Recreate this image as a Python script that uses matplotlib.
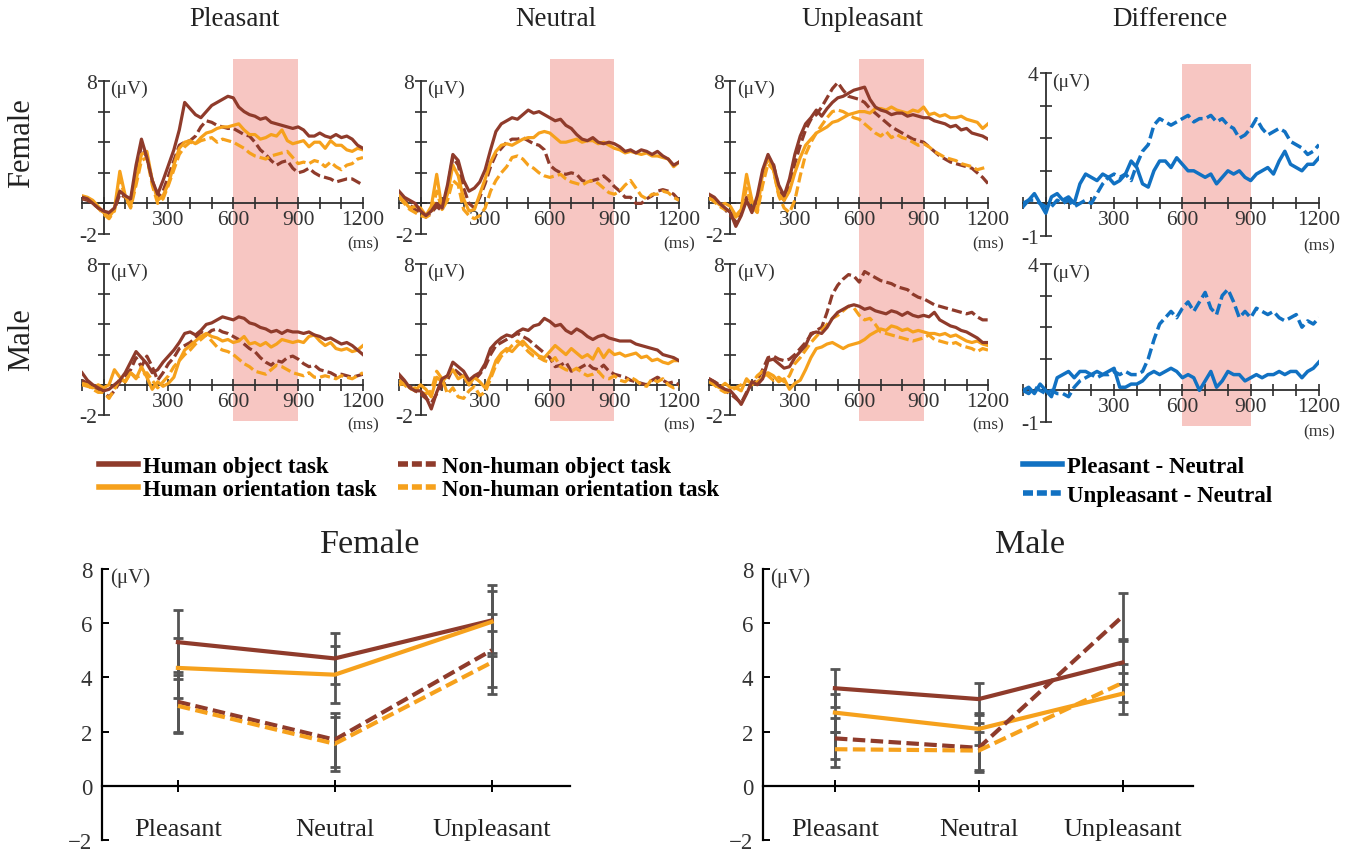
import matplotlib
matplotlib.use('Agg')
import matplotlib.pyplot as plt
import matplotlib.transforms as mtrans
from matplotlib.lines import Line2D
from matplotlib.patches import Rectangle

# ---- data ----
t_ms = list(range(-100, 1201, 25))

# Pleasant
fem_pl_ho = [0.4, 0.3, 0.0, -0.3,
             -0.5, -0.6, -0.3, 0.8, 0.5, 0.3, 2.5, 4.2,
             3.0, 1.5, 0.6, 1.5, 2.5, 3.5, 4.8, 6.6,
             6.2, 5.8, 5.6, 6.0, 6.4, 6.6, 6.8, 7.0,
             6.9, 6.3, 6.0, 5.8, 5.7, 5.5, 5.6, 5.3,
             5.2, 5.1, 5.0, 4.9, 5.0, 4.8, 4.4, 4.4,
             4.6, 4.4, 4.3, 4.5, 4.3, 4.4, 4.2, 3.8,
             3.6]
fem_pl_hr = [0.5, 0.4, 0.2, -0.2,
             -0.6, -0.9, -0.4, 2.1, 0.5, -0.2, 1.5, 3.2,
             3.4, 1.5, 0.2, 0.5, 1.3, 2.5, 3.6, 4.0,
             4.1, 3.9, 4.3, 4.6, 4.7, 4.9, 5.0, 5.0,
             5.1, 5.2, 4.8, 4.5, 4.5, 4.2, 4.3, 4.5,
             4.4, 4.8, 4.1, 3.9, 4.0, 4.1, 3.7, 4.0,
             4.0, 3.6, 4.1, 3.8, 3.8, 3.5, 3.4, 3.6,
             3.5]
fem_pl_no = [0.3, 0.2, 0.0, -0.3,
             -0.6, -0.7, -0.4, 0.6, 0.4, 0.2, 2.0, 3.8,
             3.0, 1.5, 0.4, 0.8, 1.8, 2.8, 3.8, 4.0,
             4.1, 4.4, 5.0, 5.4, 5.3, 5.1, 5.0, 4.9,
             4.9, 4.7, 4.5, 4.4, 4.0, 3.5, 3.2, 2.8,
             2.5, 2.7, 2.8, 2.3, 2.0, 2.1, 2.3, 2.0,
             1.8, 1.7, 1.6, 1.4, 1.5, 1.6, 1.6, 1.4,
             1.2]
fem_pl_nr = [0.4, 0.3, 0.1, -0.3,
             -0.7, -1.0, -0.5, 1.6, 0.4, -0.3, 1.2, 2.8,
             3.0, 1.2, 0.0, 0.3, 1.2, 2.2, 3.2, 3.7,
             4.0, 3.9, 4.1, 4.2, 4.3, 4.0, 4.2, 4.1,
             4.0, 3.8, 3.6, 3.3, 3.1, 3.0, 2.9, 3.1,
             3.2, 3.3, 3.4, 3.0, 2.6, 2.7, 2.6, 2.8,
             2.7, 2.4, 2.7, 2.4, 2.2, 2.5, 2.6, 2.9,
             3.0]
mal_pl_ho = [0.8, 0.3, 0.0, -0.2,
             -0.4, -0.3, 0.0, 0.3, 0.8, 1.5, 2.2, 1.8,
             1.4, 0.8, 1.0, 1.5, 1.9, 2.3, 2.8, 3.4,
             3.5, 3.3, 3.6, 4.0, 4.1, 4.3, 4.5, 4.4,
             4.3, 4.5, 4.4, 4.1, 4.0, 3.8, 3.7, 3.5,
             3.6, 3.4, 3.6, 3.5, 3.5, 3.4, 3.5, 3.3,
             3.2, 3.0, 3.1, 2.9, 2.7, 2.8, 2.6, 2.3,
             2.0]
mal_pl_hr = [0.0, -0.1, -0.2, 0.0,
             -0.2, 0.0, 1.0, 0.5, 0.2, 0.8, 0.4, 1.2,
             0.5, -0.3, 0.2, -0.1, 0.1, 0.5, 1.6, 2.3,
             2.6, 2.9, 3.2, 3.4, 3.2, 3.1, 2.9, 3.0,
             2.8, 2.9, 3.2, 2.7, 2.8, 2.6, 2.8, 2.5,
             2.7, 3.0, 2.9, 2.8, 2.9, 2.8, 3.2, 3.3,
             2.9, 2.6, 2.8, 2.4, 2.3, 2.4, 2.2, 2.3,
             2.6]
mal_pl_no = [0.3, 0.1, -0.1, -0.3,
             -0.5, -0.8, -0.4, 0.2, 0.6, 1.0, 1.8, 1.2,
             1.9, 1.2, 0.3, 0.8, 1.4, 1.8, 2.4, 2.6,
             2.8, 3.1, 3.5, 3.3, 3.6, 3.7, 3.5, 3.4,
             3.2, 3.0, 2.7, 2.4, 2.2, 1.8, 1.5, 1.3,
             1.6, 1.5, 1.8, 1.9, 1.7, 1.4, 1.2, 1.3,
             1.0, 0.9, 0.8, 0.6, 0.7, 0.6, 0.5, 0.6,
             0.7]
mal_pl_nr = [0.1, 0.0, -0.3, -0.5,
             -0.5, -0.9, -0.3, 0.4, 0.2, 0.8, 0.5, 0.6,
             0.8, 0.3, -0.2, 0.2, 0.6, 1.2, 1.6, 2.0,
             2.3, 2.7, 3.0, 3.3, 2.9, 2.5, 2.3, 2.2,
             2.0, 1.7, 1.4, 1.2, 0.9, 0.8, 0.7, 1.0,
             1.3, 1.2, 1.0, 0.8, 0.7, 0.6, 0.8, 0.5,
             0.5, 0.6, 0.5, 0.4, 0.6, 0.5, 0.4, 0.6,
             0.8]

# Neutral
fem_ne_ho = [0.8, 0.4, 0.2, 0.0,
             -0.5, -0.8, -0.5, 0.0, -0.3, 1.2, 3.2, 2.8,
             1.5, 0.8, 1.0, 1.4, 2.2, 3.5, 4.7, 5.2,
             5.4, 5.6, 5.5, 5.8, 6.1, 5.9, 6.0, 5.8,
             5.6, 5.4, 5.5, 5.1, 4.9, 4.5, 4.2, 4.1,
             4.3, 4.0, 3.9, 4.0, 3.9, 3.7, 3.4, 3.5,
             3.3, 3.5, 3.4, 3.2, 3.4, 3.1, 2.9, 2.5,
             2.7]
fem_ne_hr = [0.5, 0.1, -0.3, -0.2,
             -0.3, -0.8, -0.2, 1.9, -0.4, 0.6, 2.5, 1.8,
             0.3, -0.5, -0.4, 0.6, 1.6, 2.7, 3.4, 3.8,
             3.9, 3.8, 4.0, 4.2, 4.3, 4.3, 4.6, 4.7,
             4.6, 4.3, 4.0, 4.0, 4.1, 4.2, 4.0, 4.1,
             4.1, 3.9, 4.0, 3.8, 3.6, 3.5, 3.3, 3.4,
             3.3, 3.2, 3.3, 3.1, 3.1, 3.0, 2.9, 2.4,
             2.7]
fem_ne_no = [0.4, 0.2, -0.1, -0.4,
             -0.6, -0.9, -0.6, -0.2, -0.5, 1.0, 3.0, 2.5,
             1.0, 0.0, -0.3, 0.4, 1.3, 2.4, 3.2, 3.6,
             4.0, 4.2, 4.2, 4.3, 4.1, 3.9, 3.8, 3.5,
             2.5, 2.2, 2.0, 1.9, 2.0, 1.9, 1.5, 1.4,
             1.5, 1.6, 1.8, 1.5, 1.1, 0.8, 0.4, 0.4,
             0.0, 0.0, 0.3, 0.5, 0.8, 0.9, 0.8, 0.6,
             0.2]
fem_ne_nr = [0.4, 0.0, -0.4, -0.6,
             -0.8, -0.9, -0.7, 0.8, -0.4, 0.2, 1.5, 1.2,
             -0.4, -0.8, -1.0, -0.8, -0.3, 0.8, 1.5, 2.0,
             2.4, 3.0, 3.1, 2.9, 2.5, 2.3, 2.0, 1.8,
             1.7, 1.8, 1.9, 1.6, 1.4, 1.3, 1.2, 1.4,
             1.5, 1.3, 1.0, 0.7, 0.6, 0.8, 1.2, 1.5,
             1.0, 0.5, 0.3, 0.6, 0.6, 0.8, 0.7, 0.4,
             0.2]
mal_ne_ho = [0.7, 0.3, -0.2, -0.4,
             -0.4, -0.8, -1.6, -0.5, 0.4, 0.6, 1.5, 1.2,
             0.9, 0.3, 0.6, 0.8, 1.4, 2.4, 2.8, 3.1,
             3.3, 3.2, 3.5, 3.7, 3.6, 3.9, 4.0, 4.4,
             4.2, 3.9, 4.0, 3.6, 3.4, 3.7, 3.5, 3.2,
             3.0, 3.2, 3.3, 3.1, 3.0, 2.9, 2.9, 2.9,
             2.7, 2.6, 2.5, 2.4, 2.3, 2.0, 1.9, 1.8,
             1.6]
mal_ne_hr = [0.0, 0.1, -0.2, -0.4,
             0.0, -0.3, -0.8, 0.5, 0.2, 0.6, 1.0, 0.4,
             0.6, 0.0, 0.5, 0.2, -0.2, 0.6, 1.6, 2.1,
             2.4, 2.2, 2.6, 2.9, 2.5, 2.2, 1.9, 1.8,
             2.2, 2.6, 2.3, 2.0, 2.4, 2.1, 1.8, 2.0,
             1.7, 2.4, 1.8, 2.3, 2.0, 2.1, 1.9, 2.0,
             2.1, 1.8, 1.9, 1.6, 1.7, 1.5, 1.4, 1.6,
             1.6]
mal_ne_no = [0.6, 0.2, -0.1, -0.4,
             -0.6, -0.9, -1.2, -0.6, 0.0, 0.3, 1.1, 0.8,
             0.5, 0.0, 0.3, 0.7, 1.2, 2.0, 2.6, 2.8,
             3.0, 3.2, 3.4, 3.2, 3.0, 2.7, 2.4, 2.1,
             1.8, 1.2, 1.3, 1.5, 0.9, 1.0, 1.2, 1.4,
             1.1, 1.0, 1.3, 0.9, 0.7, 0.6, 0.5, 0.3,
             0.2, 0.1, 0.0, 0.3, 0.5, 0.3, 0.1, 0.2,
             0.0]
mal_ne_nr = [0.3, 0.0, -0.3, -0.2,
             -0.5, -0.6, -0.4, 0.9, 0.4, -0.6, -0.2, -0.8,
             -0.9, -0.4, -0.1, -0.7, -0.5, 0.4, 1.3, 1.9,
             2.2, 2.6, 2.9, 2.6, 2.2, 1.9, 1.8, 1.6,
             1.5, 1.8, 1.2, 1.0, 0.9, 1.1, 0.8, 0.6,
             0.7, 0.9, 0.5, 0.4, 0.6, 0.3, 0.2, 0.5,
             0.3, 0.0, -0.1, 0.4, 0.2, 0.4, 0.0, -0.2,
             -0.1]

# Unpleasant
fem_un_ho = [0.6, 0.4, 0.0, -0.3,
             -0.6, -1.5, -0.8, 0.2, -0.6, 0.5, 2.2, 3.2,
             2.5, 1.2, 0.5, 1.6, 3.2, 4.4, 5.2, 5.6,
             6.1, 5.7, 6.2, 6.6, 6.9, 7.0, 7.2, 7.4,
             7.5, 7.6, 6.8, 6.3, 6.1, 6.0, 5.8, 5.9,
             5.9, 5.7, 5.8, 5.7, 5.6, 5.6, 5.4, 5.3,
             5.2, 5.0, 5.1, 4.8, 4.9, 4.6, 4.5, 4.4,
             4.2]
fem_un_hr = [0.3, 0.2, -0.1, 0.0,
             -0.2, -0.8, -0.4, 1.9, 0.2, -0.5, 2.0, 3.0,
             2.2, 0.6, 0.2, 0.8, 2.0, 3.0, 3.8, 4.2,
             4.6, 4.8, 5.0, 5.3, 5.4, 5.6, 5.8, 5.9,
             6.0, 6.0, 5.9, 6.2, 6.2, 6.1, 6.3, 6.1,
             6.0, 5.9, 6.1, 6.0, 6.3, 5.8, 5.9, 5.7,
             5.8, 5.6, 5.6, 5.7, 5.5, 5.4, 5.3, 4.9,
             5.2]
fem_un_no = [0.5, 0.3, 0.0, -0.4,
             -0.8, -1.2, -0.6, 0.4, -0.5, 0.2, 1.8, 3.0,
             2.6, 1.0, 0.2, 1.0, 2.6, 3.8, 4.8, 5.5,
             5.8, 6.3, 6.9, 7.5, 7.9, 7.4, 7.0, 6.9,
             6.8, 6.6, 6.2, 5.9, 5.6, 5.3, 5.0, 4.8,
             4.6, 4.4, 4.2, 4.1, 4.0, 3.7, 3.4, 3.1,
             2.9, 2.7, 2.6, 2.5, 2.4, 2.3, 2.0, 1.7,
             1.3]
fem_un_nr = [0.4, 0.1, -0.2, -0.4,
             -0.5, -0.9, -0.5, 1.0, -0.2, -0.6, 1.2, 2.6,
             2.2, 0.5, -0.3, -0.6, 0.2, 1.8, 3.2, 4.0,
             4.6, 5.1, 5.6, 6.0, 6.1, 6.0, 5.8, 5.6,
             5.5, 5.2, 4.9, 4.6, 4.4, 4.7, 4.3, 4.5,
             4.3, 4.2, 4.0, 3.8, 3.9, 3.7, 3.4, 3.2,
             3.0, 2.9, 2.8, 2.6, 2.5, 2.4, 2.2, 2.3,
             2.4]
mal_un_ho = [0.4, 0.2, -0.1, -0.3,
             -0.4, -0.8, -1.3, -0.6, 0.2, 0.0, 0.4, 1.6,
             1.7, 1.4, 1.1, 1.2, 1.8, 2.2, 2.6, 3.4,
             3.5, 3.4, 3.8, 4.4, 4.8, 5.0, 5.2, 5.3,
             5.2, 5.0, 5.1, 4.9, 4.8, 4.7, 4.9, 4.8,
             4.6, 4.8, 4.6, 4.5, 4.6, 4.5, 4.8, 4.3,
             4.1, 3.9, 3.8, 3.6, 3.5, 3.3, 3.1, 2.8,
             2.8]
mal_un_hr = [0.2, 0.0, -0.2, 0.1,
             -0.2, -0.2, -0.4, 0.4, 0.0, 0.2, 0.5, 0.8,
             0.6, 0.2, 0.4, -0.3, 0.1, 0.3, 1.0, 1.8,
             2.4, 2.5, 2.7, 2.8, 2.6, 2.4, 2.6, 2.7,
             2.8, 3.0, 3.3, 3.5, 3.7, 3.6, 3.9, 3.8,
             3.6, 3.7, 3.5, 3.6, 3.5, 3.4, 3.4, 3.3,
             3.4, 3.2, 3.3, 3.1, 2.9, 2.8, 2.9, 2.7,
             2.6]
mal_un_no = [0.4, 0.2, 0.0, -0.4,
             -0.6, -0.9, -1.2, -0.5, 0.1, 0.3, 1.0, 1.8,
             1.9, 1.7, 1.6, 1.7, 2.0, 2.4, 2.8, 3.3,
             3.6, 3.8, 4.8, 6.0, 6.6, 7.0, 7.3, 7.2,
             6.8, 7.5, 7.3, 7.1, 6.9, 6.8, 6.7, 6.5,
             6.4, 6.3, 6.0, 5.8, 5.7, 5.5, 5.3, 5.2,
             5.1, 5.0, 4.9, 4.8, 4.7, 4.8, 4.5, 4.3,
             4.3]
mal_un_nr = [0.3, 0.0, -0.3, -0.5,
             -0.4, -0.2, 0.0, 0.3, 0.1, 0.6, 0.9, 0.6,
             0.3, 0.5, 0.2, 0.6, 1.4, 1.8, 2.3, 2.8,
             3.2, 3.6, 4.0, 4.4, 4.6, 4.9, 5.2, 5.1,
             4.6, 4.3, 4.4, 4.0, 3.5, 3.4, 3.3, 3.2,
             3.1, 3.0, 2.9, 3.0, 3.1, 3.3, 3.0, 2.9,
             2.8, 2.7, 2.8, 2.6, 2.5, 2.4, 2.2, 2.4,
             2.3]

# Difference waves
fem_diff_pn = [-0.1, 0.1, 0.3, 0.0,
               -0.3, 0.2, 0.3, 0.1, 0.2, 0.0, 0.6, 0.9,
               0.8, 0.7, 0.9, 0.8, 0.6, 0.7, 0.9, 1.3,
               1.1, 0.6, 0.5, 1.0, 1.3, 1.3, 1.1, 1.4,
               1.2, 1.0, 1.0, 0.9, 0.8, 0.9, 0.6, 0.8,
               1.0, 0.9, 1.0, 0.8, 0.7, 0.9, 1.0, 1.1,
               0.9, 1.3, 1.6, 1.2, 1.1, 1.0, 1.2, 1.2,
               1.4]
fem_diff_un = [0.0, 0.1, 0.1, 0.0,
               -0.1, -0.1, 0.1, 0.0, 0.1, -0.1, 0.0, 0.1,
               0.0, 0.3, 0.6, 0.8, 0.9, 0.8, 0.9, 0.7,
               1.2, 1.6, 1.8, 2.4, 2.6, 2.5, 2.4, 2.5,
               2.6, 2.7, 2.5, 2.6, 2.6, 2.7, 2.5, 2.6,
               2.4, 2.3, 2.0, 2.1, 2.3, 2.6, 2.3, 2.1,
               2.2, 2.3, 2.2, 1.9, 1.8, 1.7, 1.5, 1.6,
               1.8]
mal_diff_pn = [0.0, 0.1, -0.1, 0.2,
               0.0, -0.2, 0.4, 0.5, 0.6, 0.4, 0.6, 0.6,
               0.5, 0.6, 0.5, 0.6, 0.7, 0.1, 0.1, 0.2,
               0.2, 0.3, 0.5, 0.6, 0.5, 0.6, 0.7, 0.6,
               0.4, 0.5, 0.4, 0.0, 0.3, 0.6, 0.1, 0.3,
               0.6, 0.5, 0.5, 0.3, 0.4, 0.5, 0.4, 0.5,
               0.5, 0.6, 0.5, 0.6, 0.6, 0.4, 0.6, 0.7,
               0.9]
mal_diff_un = [0.0, -0.1, 0.1, 0.0,
               -0.1, 0.0, -0.1, -0.1, -0.2, 0.1, 0.3, 0.4,
               0.5, 0.4, 0.5, 0.5, 0.6, 0.5, 0.6, 0.5,
               0.5, 0.6, 1.0, 1.6, 2.1, 2.3, 2.5, 2.3,
               2.6, 2.8, 2.5, 2.8, 3.1, 2.6, 2.4, 3.0,
               3.2, 2.8, 2.3, 2.5, 2.3, 2.6, 2.5, 2.4,
               2.5, 2.3, 2.2, 2.3, 2.4, 2.0, 2.2, 2.1,
               2.3]

# mean amplitude 600-900 ms (bottom panels)
emotions = ['Pleasant', 'Neutral', 'Unpleasant']
fem_mean_ho = [5.3, 4.7, 6.1]
fem_mean_hr = [4.35, 4.1, 6.05]
fem_mean_no = [3.1, 1.7, 5.0]
fem_mean_nr = [2.95, 1.55, 4.55]
fem_se_ho = [1.2, 0.95, 1.3]
fem_se_hr = [1.1, 1.05, 1.15]
fem_se_no = [1.1, 1.0, 1.35]
fem_se_nr = [1.0, 1.0, 1.15]
mal_mean_ho = [3.6, 3.2, 4.55]
mal_mean_hr = [2.7, 2.1, 3.4]
mal_mean_no = [1.75, 1.4, 6.25]
mal_mean_nr = [1.35, 1.3, 3.8]
mal_se_ho = [0.7, 0.6, 0.8]
mal_se_hr = [0.7, 0.6, 0.75]
mal_se_no = [0.75, 0.9, 0.85]
mal_se_nr = [0.65, 0.7, 0.7]

# ---- style ----
BROWN = '#8f3b2b'
ORANGE = '#f6a11c'
BLUE = '#1171c2'
PINK = '#f7c6c2'
AXC = '#2e2e2e'
SERIF = 'Liberation Serif'
plt.rcParams['font.family'] = SERIF

W, H = 1354, 854
fig = plt.figure(figsize=(W / 100, H / 100), dpi=100)


def add_ax(left, right, top, bottom):
    return fig.add_axes([left / W, 1 - bottom / H, (right - left) / W, (bottom - top) / H])


def erp_axes(ax, ymin, ymax, ystep):
    ax.set_facecolor('none')
    ax.set_xlim(-100, 1200)
    ax.set_ylim(ymin, ymax)
    for s in ['top', 'right']:
        ax.spines[s].set_visible(False)
    ax.spines['left'].set_position(('data', 0))
    ax.spines['bottom'].set_position(('data', 0))
    for s in ['left', 'bottom']:
        ax.spines[s].set_color(AXC)
        ax.spines[s].set_linewidth(1.3)
    xt = list(range(-100, 1201, 100))
    ax.set_xticks(xt)
    ax.set_xticklabels([str(v) if v in (300, 600, 900, 1200) else '' for v in xt])
    yt = list(range(ymin, ymax + 1, ystep))
    ax.set_yticks(yt)
    ax.set_yticklabels([str(v) if v in (ymin, ymax) else '' for v in yt])
    ax.tick_params(direction='inout', length=8, width=1.2, color=AXC,
                   labelsize=15.5, labelcolor='#333333', pad=1)
    ax.text(30, ymax - 0.05 * (ymax - ymin), '(\u03bcV)', fontsize=14,
            ha='left', va='center', color='#333333')
    ax.text(1200, ymin - 0.06 * (ymax - ymin), '(ms)', fontsize=12.5,
            ha='center', va='center', color='#333333')


def shade(ax, top, bottom):
    tr = mtrans.blended_transform_factory(ax.transData, fig.transFigure)
    rect = Rectangle((600, 1 - bottom / H), 300, (bottom - top) / H, transform=tr,
                     facecolor=PINK, edgecolor='none', clip_on=False, zorder=0)
    ax.add_patch(rect)


cond_x = [(82, 363), (399, 679), (709, 988)]
row_y = [(82, 235), (265, 416)]
erp_sets = [
    [(fem_pl_ho, fem_pl_hr, fem_pl_no, fem_pl_nr), (mal_pl_ho, mal_pl_hr, mal_pl_no, mal_pl_nr)],
    [(fem_ne_ho, fem_ne_hr, fem_ne_no, fem_ne_nr), (mal_ne_ho, mal_ne_hr, mal_ne_no, mal_ne_nr)],
    [(fem_un_ho, fem_un_hr, fem_un_no, fem_un_nr), (mal_un_ho, mal_un_hr, mal_un_no, mal_un_nr)],
]
dash = (0, (3.2, 1.3))

for ci, (xl, xr) in enumerate(cond_x):
    for ri, (yt_, yb_) in enumerate(row_y):
        ax = add_ax(xl, xr, yt_, yb_)
        erp_axes(ax, -2, 8, 2)
        if ri == 0:
            shade(ax, 60, 422)
        ho, hr, no, nr = erp_sets[ci][ri]
        ax.plot(t_ms, no, color=BROWN, lw=2.3, ls=dash, zorder=3)
        ax.plot(t_ms, nr, color=ORANGE, lw=2.3, ls=dash, zorder=3)
        ax.plot(t_ms, hr, color=ORANGE, lw=2.3, zorder=4)
        ax.plot(t_ms, ho, color=BROWN, lw=2.3, zorder=4)

diff_rows = [(74, 237), (265, 423)]
diff_sets = [(fem_diff_pn, fem_diff_un), (mal_diff_pn, mal_diff_un)]
for ri, (yt_, yb_) in enumerate(diff_rows):
    ax = add_ax(1023, 1319, yt_, yb_)
    erp_axes(ax, -1, 4, 1)
    if ri == 0:
        shade(ax, 65, 427)
    pn, un = diff_sets[ri]
    ax.plot(t_ms, un, color=BLUE, lw=2.5, ls=dash, zorder=3)
    ax.plot(t_ms, pn, color=BLUE, lw=2.5, zorder=4)

# titles and row labels
for name, xc in zip(['Pleasant', 'Neutral', 'Unpleasant', 'Difference'], [234, 556, 862, 1170]):
    fig.text(xc / W, 1 - 20 / H, name, fontsize=19.5, ha='center', va='center', color='#222222')
fig.text(22 / W, 1 - 143 / H, 'Female', fontsize=22, rotation=90, ha='center', va='center', color='#222222')
fig.text(22 / W, 1 - 340 / H, 'Male', fontsize=22, rotation=90, ha='center', va='center', color='#222222')

# legends
task_handles = [Line2D([], [], color=BROWN, lw=4), Line2D([], [], color=ORANGE, lw=4),
                Line2D([], [], color=BROWN, lw=4, ls=(0, (1.8, 0.7))),
                Line2D([], [], color=ORANGE, lw=4, ls=(0, (1.8, 0.7)))]
task_labels = ['Human object task', 'Human orientation task',
               'Non-human object task', 'Non-human orientation task']
fig.legend(task_handles, task_labels, loc='upper left', bbox_to_anchor=(78 / W, 1 - 436 / H),
           ncol=2, frameon=False, handlelength=1.7, handletextpad=0.25, labelspacing=0.12,
           columnspacing=0.9, prop={'family': SERIF, 'weight': 'bold', 'size': 16.5})
diff_handles = [Line2D([], [], color=BLUE, lw=4), Line2D([], [], color=BLUE, lw=4, ls=(0, (1.8, 0.7)))]
fig.legend(diff_handles, ['Pleasant - Neutral', 'Unpleasant - Neutral'], loc='upper left',
           bbox_to_anchor=(1002 / W, 1 - 436 / H), frameon=False, handlelength=1.7,
           handletextpad=0.25, labelspacing=0.35,
           prop={'family': SERIF, 'weight': 'bold', 'size': 16.5})

# bottom panels
x_cat = [0, 1, 2]
bottom_sets = [
    ('Female', (102, 570), (-0.484, 2.5), 370,
     [(fem_mean_ho, fem_se_ho), (fem_mean_hr, fem_se_hr), (fem_mean_no, fem_se_no), (fem_mean_nr, fem_se_nr)]),
    ('Male', (763, 1193), (-0.5, 2.49), 1030,
     [(mal_mean_ho, mal_se_ho), (mal_mean_hr, mal_se_hr), (mal_mean_no, mal_se_no), (mal_mean_nr, mal_se_nr)]),
]
styles = [(BROWN, '-'), (ORANGE, '-'), (BROWN, (0, (3, 1.3))), (ORANGE, (0, (3, 1.3)))]
for title, (xl, xr), xlim, xc, series in bottom_sets:
    ax = add_ax(xl, xr, 570, 841)
    ax.set_facecolor('none')
    ax.set_xlim(*xlim)
    ax.set_ylim(-2, 8)
    for s in ['top', 'right']:
        ax.spines[s].set_visible(False)
    ax.spines['bottom'].set_position(('data', 0))
    for s in ['left', 'bottom']:
        ax.spines[s].set_color('black')
        ax.spines[s].set_linewidth(1.6)
    ax.set_yticks(range(-2, 9, 2))
    ax.tick_params(axis='y', direction='in', length=5, width=1.4, labelsize=16.5,
                   labelcolor='#333333', pad=7)
    ax.set_xticks(x_cat)
    ax.set_xticklabels(emotions)
    ax.tick_params(axis='x', direction='inout', length=9, width=1.4, labelsize=19,
                   labelcolor='#222222', pad=19)
    for (m, se), (c, ls) in zip(series, styles):
        ax.errorbar(x_cat, m, yerr=se, fmt='none', ecolor='#555555', elinewidth=2,
                    capsize=3.5, capthick=2, zorder=2)
    for (m, se), (c, ls) in zip(series, styles):
        ax.plot(x_cat, m, color=c, lw=3, ls=ls, zorder=3)
    ax.text(xlim[0] + 0.05, 7.7, '(\u03bcV)', fontsize=15, ha='left', va='center', color='#333333')
    fig.text(xc / W, 1 - 545 / H, title, fontsize=24.5, ha='center', va='center', color='#222222')

fig.savefig('out.png', dpi=100)
